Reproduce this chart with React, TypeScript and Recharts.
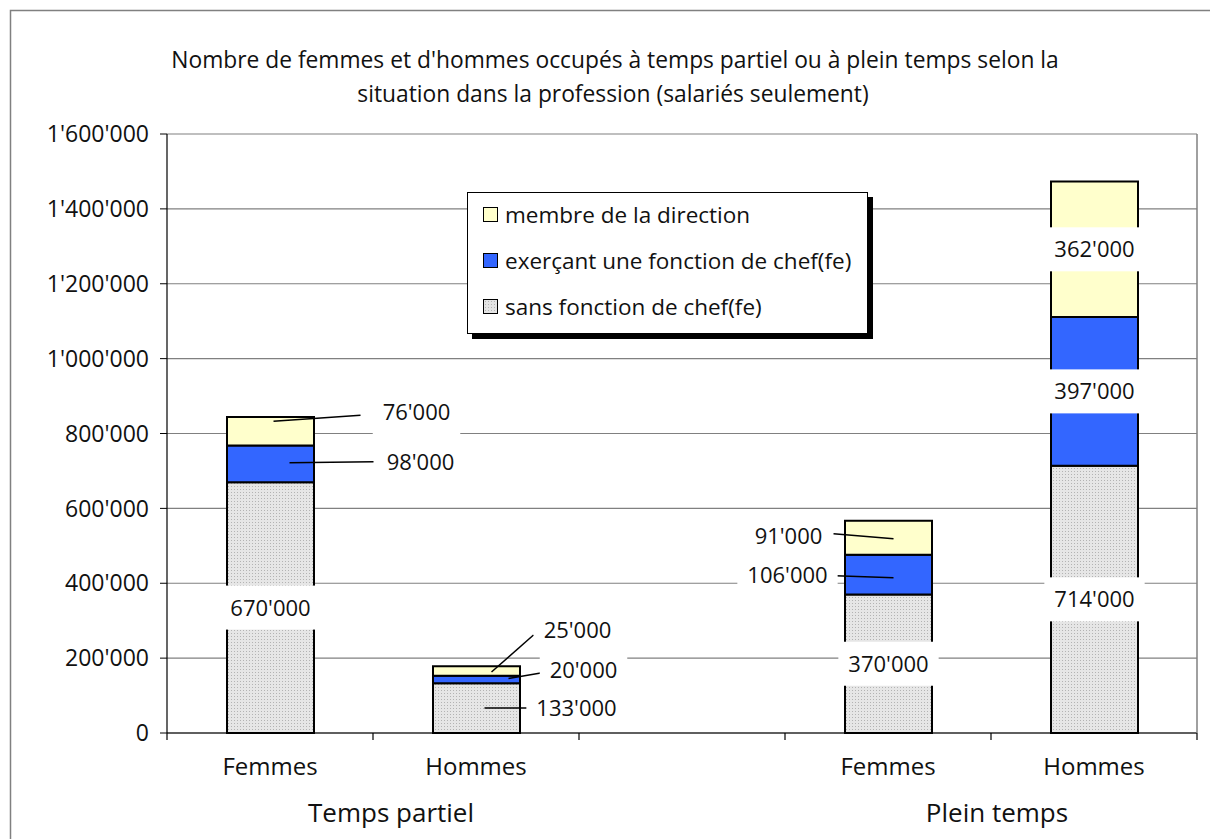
import React from 'react';
import { BarChart, Bar, XAxis, YAxis, CartesianGrid, Legend, LabelList } from 'recharts';

const categories = ['Femmes', 'Hommes', '', 'Femmes', 'Hommes'];
const groupLabels = ['Temps partiel', 'Plein temps'];
const sansFonction = [670000, 133000, null, 370000, 714000];
const fonctionChef = [98000, 20000, null, 106000, 397000];
const membreDirection = [76000, 25000, null, 91000, 362000];
const yTicks = [0, 200000, 400000, 600000, 800000, 1000000, 1200000, 1400000, 1600000];
const titleLines = [
  "Nombre de femmes et d'hommes occupés à temps partiel ou à plein temps selon la",
  'situation dans la profession (salariés seulement)',
];
const seriesNames = {
  sans: 'sans fonction de chef(fe)',
  chef: 'exerçant une fonction de chef(fe)',
  dir: 'membre de la direction',
};

const data = categories.map((c, i) => ({
  key: `c${i}`,
  label: c,
  sans: sansFonction[i],
  chef: fonctionChef[i],
  dir: membreDirection[i],
}));

const FONT = "'Open Sans', 'Noto Sans', sans-serif";
const fmt = (v: number) => String(Math.round(v)).replace(/\B(?=(\d{3})+(?!\d))/g, "'");

type LabelLayout =
  | { mode: 'box' }
  | { mode: 'leader'; l: [number, number, number, number]; t: [number, number] }
  | null;

// label placement relative to the segment centre (styling only)
const sansLayout: LabelLayout[] = [
  { mode: 'box' },
  { mode: 'leader', l: [8, 0, 57, 0], t: [100, 0] },
  null,
  { mode: 'box' },
  { mode: 'box' },
];
const chefLayout: LabelLayout[] = [
  { mode: 'leader', l: [19, -1, 103, -2], t: [150, -2] },
  { mode: 'leader', l: [32, -1, 73, -8], t: [107, -9] },
  null,
  { mode: 'leader', l: [5, 3, -53, 1], t: [-101, 0] },
  { mode: 'box' },
];
const dirLayout: LabelLayout[] = [
  { mode: 'leader', l: [3, -10, 90, -16], t: [146, -19] },
  { mode: 'leader', l: [15, 1, 57, -36], t: [101, -41] },
  null,
  { mode: 'leader', l: [5, 1, -55, -4], t: [-100, -2] },
  { mode: 'box' },
];

const textWidth = (s: string) => {
  let w = 0;
  for (const ch of s) w += ch === "'" ? 5.5 : 12.8;
  return w;
};

const makeLabel = (series: (number | null)[], layout: LabelLayout[]) => (props: any) => {
  const { value } = props;
  if (value == null) return null;
  const idx = series.indexOf(Number(value));
  const vb = props.viewBox || {};
  const x = Number(props.x ?? vb.x);
  const y = Number(props.y ?? vb.y);
  const w = Number(props.width ?? vb.width);
  const h = Number(props.height ?? vb.height);
  const L = layout[idx];
  if (!L) return null;
  const cx = x + w / 2;
  const cy = y + h / 2;
  const text = fmt(Number(value));
  const tw = textWidth(text);
  let tx = cx;
  let ty = cy;
  let line = null;
  if (L.mode === 'leader') {
    tx = cx + L.t[0];
    ty = cy + L.t[1];
    line = (
      <line x1={cx + L.l[0]} y1={cy + L.l[1]} x2={cx + L.l[2]} y2={cy + L.l[3]} stroke="#000" strokeWidth={1.5} />
    );
  }
  return (
    <g>
      {line}
      <rect x={tx - tw / 2 - 9} y={ty - 22} width={tw + 18} height={44} fill="#fff" />
      <text x={tx} y={ty} dy="0.36em" textAnchor="middle" fontSize={22} fontFamily={FONT} fill="#111">
        {text}
      </text>
    </g>
  );
};

const XTick = (props: any) => {
  const { x, y, payload, index } = props;
  const half = payload && payload.offset ? payload.offset : 103;
  const item = data.find((d) => d.key === payload.value);
  const label = item ? item.label : '';
  return (
    <g>
      <line x1={x + half} x2={x + half} y1={y} y2={y + 7} stroke="#000" strokeWidth={1.2} />
      {index === 0 && <line x1={x - half} x2={x - half} y1={y} y2={y + 7} stroke="#000" strokeWidth={1.2} />}
      <text x={x} y={y + 42} textAnchor="middle" fontSize={24} fontFamily={FONT} fill="#111">
        {label}
      </text>
    </g>
  );
};

const swatch: Record<string, React.CSSProperties> = {
  dir: { background: '#FFFFCC' },
  chef: { background: '#3366FF' },
  sans: {
    backgroundColor: '#e4e4e4',
    backgroundImage: 'radial-gradient(#b5b5b5 0.6px, transparent 0.7px)',
    backgroundSize: '3px 3px',
  },
};

const LegendBox = () => {
  const keys = ['dir', 'chef', 'sans'];
  return (
    <div
      style={{
        width: 399,
        height: 140,
        border: '1px solid #000',
        background: '#fff',
        boxShadow: '5px 5px 0 #000',
        boxSizing: 'content-box',
        fontFamily: FONT,
        fontSize: 22.5,
        color: '#111',
      }}
    >
      {keys.map((k) => (
        <div key={k} style={{ height: 46, display: 'flex', alignItems: 'center', marginTop: k === 'dir' ? -2 : 0 }}>
          <span
            style={{
              display: 'inline-block',
              width: 13,
              height: 13,
              border: '1px solid #000',
              marginLeft: 15,
              marginRight: 7,
              ...swatch[k],
            }}
          />
          <span style={{ whiteSpace: 'nowrap' }}>{(seriesNames as any)[k]}</span>
        </div>
      ))}
    </div>
  );
};

export default function App() {
  return (
    <div style={{ position: 'absolute', left: 0, top: 0, width: 1210, height: 839, background: '#fff', overflow: 'hidden' }}>
      <BarChart
        width={1210}
        height={839}
        data={data}
        margin={{ top: 134, right: 12, bottom: 56, left: 10 }}
        barCategoryGap={0}
        style={{ fontFamily: FONT }}
      >
        <defs>
          <pattern id="dots" width="3" height="3" patternUnits="userSpaceOnUse">
            <rect width="3" height="3" fill="#e6e6e6" />
            <rect width="1" height="1" fill="#b3b3b3" />
          </pattern>
        </defs>
        <CartesianGrid horizontal vertical={false} stroke="#808080" strokeWidth={1.2} />
        <XAxis
          dataKey="key"
          tick={(p: any) => <XTick {...p} />}
          tickLine={false}
          tickSize={0}
          tickMargin={0}
          interval={0}
          axisLine={{ stroke: '#000', strokeWidth: 1.2 }}
          height={50}
        />
        <YAxis
          domain={[0, 1600000]}
          ticks={yTicks}
          interval={0}
          tickFormatter={fmt}
          width={157}
          tickSize={7}
          tickMargin={11}
          tick={{ fontSize: 23, fill: '#111', fontFamily: FONT }}
          tickLine={{ stroke: '#000' }}
          axisLine={{ stroke: '#000', strokeWidth: 1.2 }}
        />
        <YAxis yAxisId="r" orientation="right" width={1} tick={false} tickLine={false} axisLine={{ stroke: '#808080', strokeWidth: 1.5 }} />
        <Legend
          layout="horizontal"
          verticalAlign="middle"
          align="center"
          content={() => <LegendBox />}
          wrapperStyle={{ left: 467, top: 192, width: 401, height: 142 }}
        />
        <Bar dataKey="sans" name={seriesNames.sans} stackId="a" fill="url(#dots)" stroke="#000" strokeWidth={2} barSize={87} isAnimationActive={false}>
          <LabelList dataKey="sans" content={makeLabel(sansFonction, sansLayout)} />
        </Bar>
        <Bar dataKey="chef" name={seriesNames.chef} stackId="a" fill="#3366FF" stroke="#000" strokeWidth={2} barSize={87} isAnimationActive={false}>
          <LabelList dataKey="chef" content={makeLabel(fonctionChef, chefLayout)} />
        </Bar>
        <Bar dataKey="dir" name={seriesNames.dir} stackId="a" fill="#FFFFCC" stroke="#000" strokeWidth={2} barSize={87} isAnimationActive={false}>
          <LabelList dataKey="dir" content={makeLabel(membreDirection, dirLayout)} />
        </Bar>
      </BarChart>
      <svg
        width={1210}
        height={839}
        style={{ position: 'absolute', left: 0, top: 0, pointerEvents: 'none' }}
      >
        <rect x={10.5} y={10.5} width={1220} height={860} fill="none" stroke="#808080" strokeWidth={1.5} />
        <text x={615} y={68} textAnchor="middle" fontSize={22.8} fontFamily={FONT} fill="#111">
          {titleLines[0]}
        </text>
        <text x={613} y={102} textAnchor="middle" fontSize={22.8} fontFamily={FONT} fill="#111">
          {titleLines[1]}
        </text>
        <text x={391} y={822} textAnchor="middle" fontSize={26} fontFamily={FONT} fill="#111">
          {groupLabels[0]}
        </text>
        <text x={997} y={822} textAnchor="middle" fontSize={26} fontFamily={FONT} fill="#111">
          {groupLabels[1]}
        </text>
      </svg>
    </div>
  );
}
